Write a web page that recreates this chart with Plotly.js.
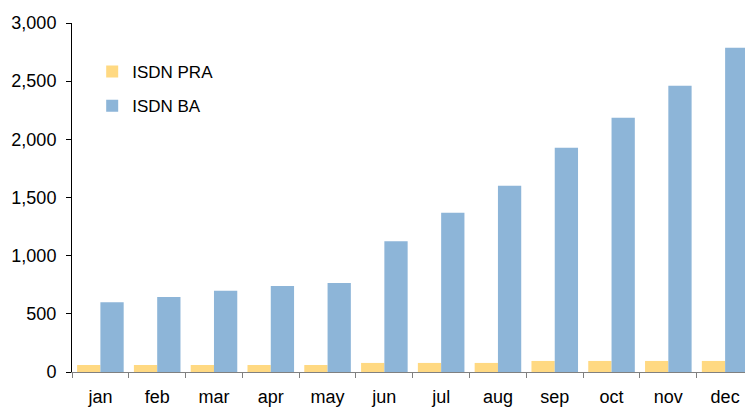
<!DOCTYPE html>
<html>
<head>
<meta charset="utf-8">
<script src="https://cdn.plot.ly/plotly-3.0.1.min.js"></script>
<style>html,body{margin:0;padding:0;overflow:hidden;background:#fff;}</style>
</head>
<body>
<div id="chart" style="width:745px;height:409px;"></div>
<script>
const months = ["jan","feb","mar","apr","may","jun","jul","aug","sep","oct","nov","dec"];
const isdnPRA = [60, 60, 60, 60, 60, 78, 78, 78, 95, 95, 95, 95];
const isdnBA = [600, 645, 698, 740, 765, 1125, 1368, 1600, 1928, 2185, 2460, 2788];
const yTicks = [0, 500, 1000, 1500, 2000, 2500, 3000];

const tickFont = {family: "Liberation Sans, Arial, sans-serif", size: 18, color: "#000"};
const legendFont = {family: "Liberation Sans, Arial, sans-serif", size: 17, color: "#000"};

const traces = [
  {type: "bar", name: "ISDN PRA", x: months, y: isdnPRA, marker: {color: "#FFD982"}, legendgroup: "a"},
  {type: "bar", name: "ISDN BA", x: months, y: isdnBA, marker: {color: "#8DB5D8"}, legendgroup: "b"}
];

const layout = {
  width: 745, height: 409,
  margin: {l: 72, r: 0, t: 23, b: 37, pad: 0},
  paper_bgcolor: "#fff", plot_bgcolor: "#fff",
  font: tickFont,
  barmode: "group", bargap: 0.18, bargroupgap: 0,
  showlegend: true,
  legend: {x: 0.03, y: 0.911, xanchor: "left", yanchor: "top", bgcolor: "rgba(0,0,0,0)",
           font: legendFont, traceorder: "grouped", tracegroupgap: 9},
  xaxis: {type: "category", range: [-0.5, 11.35], showgrid: false, zeroline: false,
          showline: true, linecolor: "#808080", linewidth: 1,
          ticks: "outside", tickson: "boundaries", ticklen: 5, tickcolor: "#808080",
          tickfont: tickFont, ticklabelstandoff: 8, fixedrange: true},
  yaxis: {range: [0, 3000], tickvals: yTicks, tickformat: ",", showgrid: false, zeroline: false,
          showline: true, linecolor: "#000", linewidth: 1, ticks: "outside", ticklen: 5,
          tickcolor: "#000", tickfont: tickFont, ticklabelstandoff: 6, fixedrange: true}
};

Plotly.newPlot("chart", traces, layout, {displayModeBar: false, staticPlot: true});
</script>
</body>
</html>
